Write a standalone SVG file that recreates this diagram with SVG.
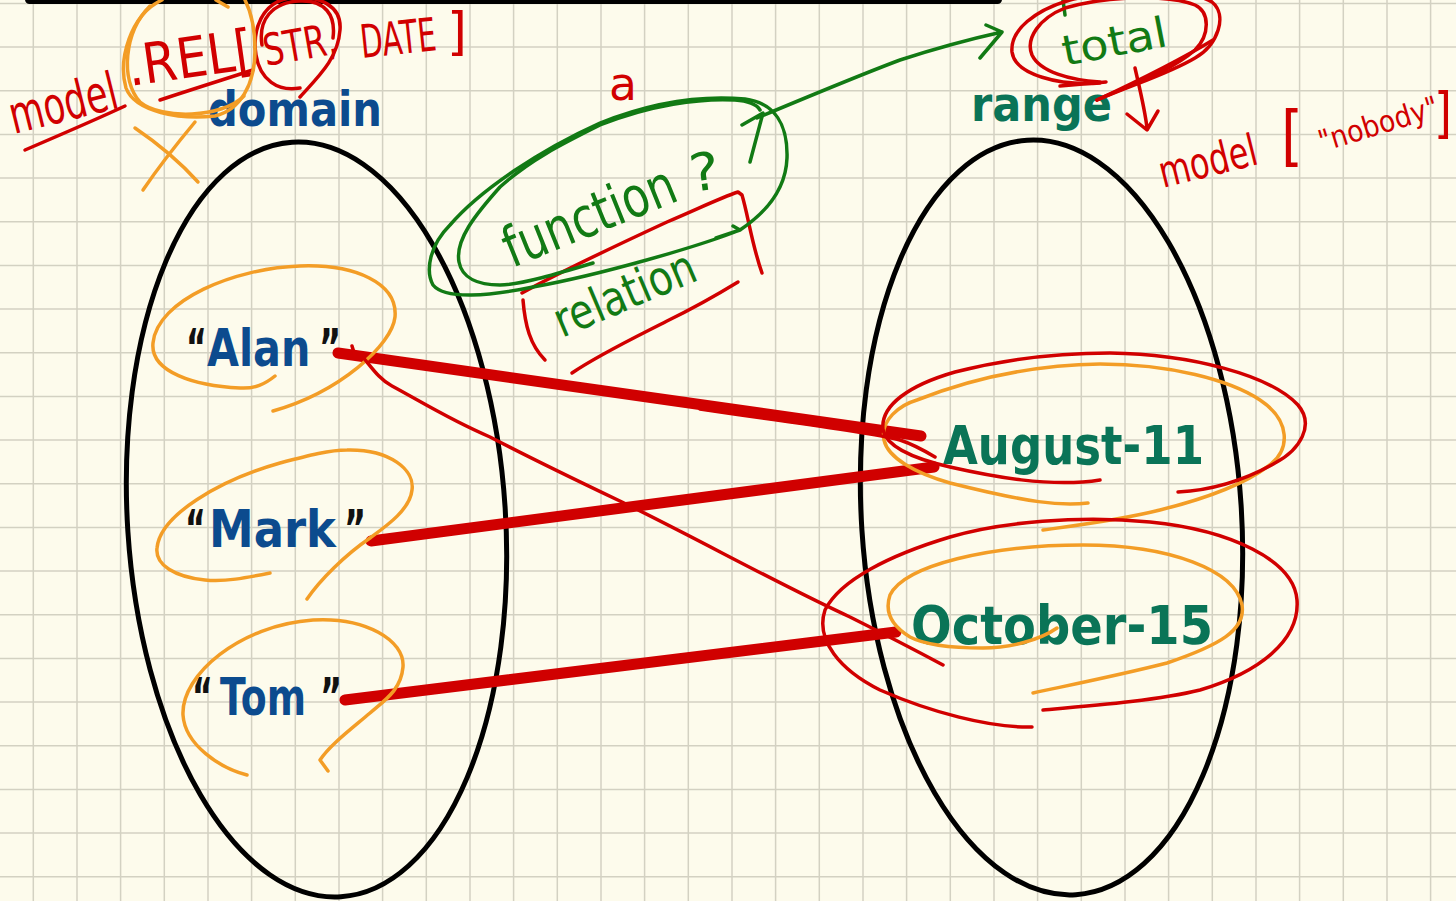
<svg xmlns="http://www.w3.org/2000/svg" width="1456" height="901" viewBox="0 0 1456 901">
  <style>
    .grid { stroke: #D3D1C2; stroke-width: 1.5; fill: none; }
    .set { fill: none; stroke: #000; stroke-width: 5; }
    .label { font-family: "DejaVu Sans", "Liberation Sans", sans-serif; font-weight: bold; }
    .elem { font-family: "DejaVu Sans", "Liberation Sans", sans-serif; font-weight: bold; font-size: 51px; }
    .blue { fill: #0C4B8E; }
    .teal { fill: #0A7457; }
    .q { fill: #111; }
    .link { stroke: #D00000; stroke-width: 11; stroke-linecap: round; fill: none; }
    .red { stroke: #D10000; stroke-width: 3.5; fill: none; stroke-linecap: round; stroke-linejoin: round; }
    .orange { stroke: #F39D26; stroke-width: 3.5; fill: none; stroke-linecap: round; stroke-linejoin: round; }
    .green { stroke: #127A14; stroke-width: 3.5; fill: none; stroke-linecap: round; stroke-linejoin: round; }
    .hw { font-family: "DejaVu Sans", "Liberation Sans", sans-serif; font-weight: normal; }
    .hw-red { fill: #D10000; }
    .hw-green { fill: #127A14; }
  </style>

  <!-- paper and grid -->
  <g id="paper">
    <rect width="1456" height="901" fill="#FDFBEC"/>
    <path class="grid" d="M33.3 0V901M77 0V901M120.6 0V901M164.3 0V901M208 0V901M251.6 0V901M295.3 0V901M339 0V901M382.6 0V901M426.3 0V901M470 0V901M513.6 0V901M557.3 0V901M601 0V901M644.6 0V901M688.3 0V901M732 0V901M775.6 0V901M819.3 0V901M863 0V901M906.6 0V901M950.3 0V901M994 0V901M1037.6 0V901M1081.3 0V901M1125 0V901M1168.6 0V901M1212.3 0V901M1256 0V901M1299.6 0V901M1343.3 0V901M1387 0V901M1430.6 0V901
      M0 3.4H1456M0 47.1H1456M0 90.7H1456M0 134.4H1456M0 178.1H1456M0 221.7H1456M0 265.4H1456M0 309.1H1456M0 352.7H1456M0 396.4H1456M0 440.1H1456M0 483.7H1456M0 527.4H1456M0 571.1H1456M0 614.7H1456M0 658.4H1456M0 702.1H1456M0 745.7H1456M0 789.4H1456M0 833.1H1456M0 876.7H1456"/>
    <rect x="25" y="-5" width="977" height="9" rx="4.5" fill="#000"/>
  </g>

  <!-- domain set -->
  <g id="domain">
    <ellipse class="set" cx="316.5" cy="519.5" rx="189" ry="378" transform="rotate(-3.7 316.5 519.5)"/>
    <text class="label blue" x="208" y="126" font-size="48" textLength="174" lengthAdjust="spacingAndGlyphs">domain</text>
  </g>

  <!-- range set -->
  <g id="range">
    <ellipse class="set" cx="1051.5" cy="517.5" rx="190" ry="378" transform="rotate(-3.7 1051.5 517.5)"/>
    <text class="label teal" x="971" y="121" font-size="48" textLength="141" lengthAdjust="spacingAndGlyphs">range</text>
  </g>

  <!-- domain elements: quotes in black, names in blue (narrowed by a horizontal scale) -->
  <g id="node-alan">
    <text class="elem q" transform="translate(186 366) scale(0.62 1)">“</text>
    <text class="elem blue" transform="translate(207 366) scale(0.81 1)">Alan</text>
    <text class="elem q" transform="translate(319 366) scale(0.66 1)">”</text>
  </g>
  <g id="node-mark">
    <text class="elem q" transform="translate(185 547) scale(0.62 1)">“</text>
    <text class="elem blue" transform="translate(209 547) scale(0.88 1)">Mark</text>
    <text class="elem q" transform="translate(344 547) scale(0.66 1)">”</text>
  </g>
  <g id="node-tom">
    <text class="elem q" transform="translate(192 715) scale(0.62 1)">“</text>
    <text class="elem blue" transform="translate(220 715) scale(0.74 1)">Tom</text>
    <text class="elem q" transform="translate(320 715) scale(0.66 1)">”</text>
  </g>
  <g id="node-august-11">
    <text class="label teal" x="943" y="464" font-size="53" textLength="261" lengthAdjust="spacingAndGlyphs">August-11</text>
  </g>
  <g id="node-october-15">
    <text class="label teal" x="911" y="644" font-size="53" textLength="302" lengthAdjust="spacingAndGlyphs">October-15</text>
  </g>

  <!-- mapping lines -->
  <g id="connectors">
    <path class="link" d="M338 353 L921 436"/>
    <path class="link" d="M371 541 L934 467"/>
    <path class="link" d="M345 700 L896 632"/>
  </g>

  <!-- ink annotations -->
  <g id="annotations">
    <!-- orange loops around the domain elements -->
    <path class="orange" d="M275 376 C265 384 255 389 240 388 C195 386 150 372 153 343 C157 300 235 268 300 266 C355 264 398 283 395 317 C392 345 340 392 273 411"/>
    <path class="orange" d="M270 573 C245 578 225 582 205 580 C175 577 155 565 157 548 C160 515 220 480 280 463 C310 455 330 450 347 450 C390 449 415 470 412 490 C410 510 385 527 370 538 C345 555 320 580 307 599"/>
    <path class="orange" d="M247 775 C220 768 185 745 183 715 C181 675 240 625 313 620 C365 617 405 640 403 667 C401 690 385 700 370 713 C350 730 330 745 320 760 L328 771"/>

    <!-- loops around the range elements -->
    <path class="orange" d="M1088 503 C1060 506 1030 503 950 483 C915 473 888 458 884 440 C880 420 900 405 917 400 C980 375 1040 365 1100 364 C1170 364 1230 380 1260 400 C1290 420 1292 450 1267 467 C1240 487 1200 500 1160 510 C1120 520 1080 525 1043 530"/>
    <path class="red" d="M1100 480 C1050 488 990 476 950 467 C915 459 887 448 883 430 C880 405 910 385 955 372 C1010 358 1060 353 1110 353 C1190 354 1270 375 1298 405 C1315 425 1300 450 1275 463 C1245 480 1215 490 1178 492"/>
    <path class="red" d="M700 409 C800 424 870 432 900 440 C915 445 925 451 935 457"/>
    <path class="orange" d="M1057 628 C1040 640 1010 648 983 648 C950 648 925 645 910 637 C890 625 885 610 890 595 C905 565 990 545 1083 545 C1170 545 1235 570 1242 605 C1246 630 1220 645 1167 663 C1120 675 1070 685 1033 693"/>
    <path class="red" d="M1043 710 C1100 705 1160 700 1200 690 C1260 672 1300 640 1297 600 C1294 560 1230 530 1150 522 C1080 515 1000 522 950 537 C890 555 840 580 825 610 C815 640 840 670 880 690 C930 712 990 728 1032 727"/>

    <!-- second mapping drawn for Alan -->
    <path class="red" d="M352 346 L355 356 M362 356 C372 368 380 380 392 386 C420 401 450 420 490 437 C540 463 580 482 624 503 C700 540 780 585 850 617 C880 632 915 650 943 665"/>

    <!-- model.REL[STR, DATE] -->
    <text class="hw hw-red" font-size="52" textLength="110" lengthAdjust="spacingAndGlyphs" transform="translate(14 134) rotate(-14)">model</text>
    <path class="red" d="M25 150 C60 135 95 120 125 106"/>
    <text class="hw hw-red" font-size="56" textLength="127" lengthAdjust="spacingAndGlyphs" transform="translate(130 86) rotate(-8)">.REL[</text>
    <path class="red" d="M160 100 C190 90 222 80 253 70"/>
    <text class="hw hw-red" font-size="44" textLength="74" lengthAdjust="spacingAndGlyphs" transform="translate(266 66) rotate(-10)">STR,</text>
    <path class="red" d="M300 97 C320 75 338 58 340 30 C342 6 320 -5 290 -2 C262 2 252 30 256 55 C260 80 278 92 300 88"/>
    <path class="red" d="M262 45 C258 20 272 2 300 1 C325 0 336 15 333 38"/>
    <text class="hw hw-red" font-size="46" textLength="76" lengthAdjust="spacingAndGlyphs" transform="translate(362 58) rotate(-6)">DATE</text>
    <text class="hw hw-red" font-size="52" textLength="20" lengthAdjust="spacingAndGlyphs" x="447" y="49">]</text>
    <path class="orange" d="M162 0 C130 15 118 60 126 88 C135 112 180 120 215 116 C240 110 255 85 255 50 C255 25 250 10 245 0"/>
    <path class="orange" d="M150 6 C124 32 120 80 140 102 C162 120 222 118 244 96"/>
    <path class="orange" d="M216 0 L228 7"/>
    <path class="orange" d="M135 128 C160 145 180 162 198 182 M195 122 C180 140 160 165 143 190"/>

    <!-- a function? / relation -->
    <text class="hw hw-red" font-size="46" textLength="28" lengthAdjust="spacingAndGlyphs" x="609" y="100">a</text>
    <path class="red" d="M522 293 C560 272 600 253 667 222 C700 208 720 198 738 192 L742 195 C748 215 752 245 762 273"/>
    <path class="red" d="M523 300 C525 325 530 345 545 360"/>
    <path class="red" d="M572 373 C600 354 640 335 667 321 C700 305 720 293 738 282"/>
    <text class="hw hw-green" font-size="56" textLength="182" lengthAdjust="spacingAndGlyphs" transform="translate(512 268) rotate(-22)">function</text>
    <text class="hw hw-green" font-size="52" textLength="30" lengthAdjust="spacingAndGlyphs" transform="translate(692 192) rotate(-8)">?</text>
    <text class="hw hw-green" font-size="48" textLength="150" lengthAdjust="spacingAndGlyphs" transform="translate(562 338) rotate(-23)">relation</text>
    <path class="green" d="M740 230 C700 246 600 275 533 287 C490 296 445 300 433 285 C425 270 430 245 450 225 C480 190 540 150 600 123 C650 103 700 95 745 99 C775 103 788 125 787 158 C786 185 770 210 740 230 M716 238 L740 230 L733 226"/>
    <path class="green" d="M593 263 C560 273 520 285 500 285 C478 285 462 278 459 262 C455 240 475 215 500 187 C530 160 560 145 600 125 C650 105 700 98 735 100 C750 101 757 105 760 110"/>
    <path class="green" d="M742 125 L763 113 L750 162"/>
    <path class="green" d="M757 118 C800 100 860 75 900 60 C940 47 975 38 1002 32 M986 25 L1002 32 L980 58"/>

    <!-- total -->
    <path class="green" d="M1063 0 L1065 15"/>
    <text class="hw hw-green" font-size="42" textLength="106" lengthAdjust="spacingAndGlyphs" transform="translate(1065 66) rotate(-11)">total</text>
    <path class="red" d="M1100 83 C1060 86 1015 75 1012 52 C1010 30 1035 10 1070 0 C1110 -10 1190 -12 1212 2 C1228 15 1218 45 1195 58 C1170 73 1140 82 1097 100"/>
    <path class="red" d="M1097 100 C1130 85 1170 72 1195 50 C1210 35 1210 12 1195 5 C1170 -5 1110 -5 1065 8 C1040 18 1025 38 1032 55 C1040 72 1070 80 1100 82"/>
    <path class="red" stroke-width="6" d="M1060 86 L1106 82"/>
    <path class="red" d="M1097 100 C1140 80 1180 60 1213 40"/>
    <path class="red" d="M1135 68 C1140 90 1145 110 1147 128 M1127 114 L1147 130 L1158 111"/>

    <!-- model["nobody"] -->
    <text class="hw hw-red" font-size="44" textLength="100" lengthAdjust="spacingAndGlyphs" transform="translate(1163 188) rotate(-14)">model</text>
    <text class="hw hw-red" font-size="66" textLength="22" lengthAdjust="spacingAndGlyphs" x="1281" y="158">[</text>
    <text class="hw hw-red" font-size="30" textLength="124" lengthAdjust="spacingAndGlyphs" transform="translate(1322 152) rotate(-17)">"nobody"</text>
    <text class="hw hw-red" font-size="56" textLength="18" lengthAdjust="spacingAndGlyphs" x="1434" y="132">]</text>
  </g>
</svg>
